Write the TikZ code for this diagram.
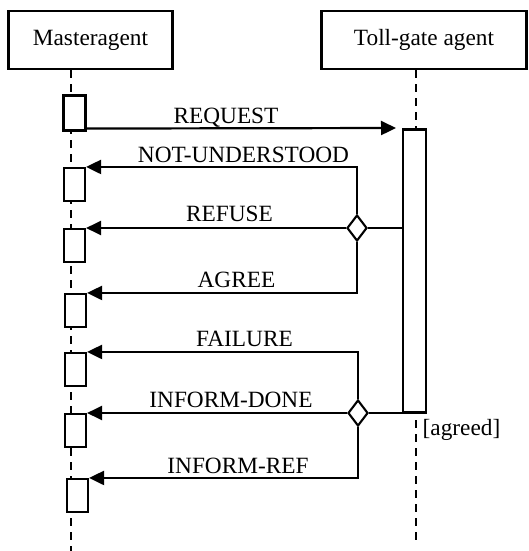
\documentclass[tikz,border=0pt]{standalone}
\usepackage{fontspec}
\setmainfont{Liberation Serif}
\usetikzlibrary{arrows.meta,shapes.geometric}
\begin{document}
\begin{tikzpicture}[x=1pt,y=-1pt,
  every node/.style={font=\fontsize{23.3}{28}\selectfont},
  head/.style={draw, line width=2.1pt, minimum height=58pt, inner sep=0pt},
  act/.style={draw, fill=white, line width=2.1pt, minimum width=21pt, minimum height=33pt, inner sep=0pt},
  choice/.style={diamond, draw, fill=white, line width=2.1pt, minimum width=20pt, minimum height=26pt, inner sep=0pt},
  life/.style={line width=1.8pt, dash pattern=on 8pt off 6pt},
  msg/.style={line width=2.2pt, -{Triangle[length=15pt,width=14pt]}},
  link/.style={line width=2pt},
  lab/.style={anchor=base, inner sep=0pt}
]
\useasboundingbox (0,0) rectangle (529,551);

% heads
\node[head, minimum width=164pt] (mh) at (90.5,40) {Masteragent};
\node[head, minimum width=205pt] (th) at (424,40) {Toll-gate agent};

% lifelines
\coordinate (mlend) at (71,551);
\coordinate (tlend) at (416,540);
\draw[life] (mlend |- mh.south) -- (mlend);
\draw[life] (tlend |- th.south) -- (tlend);

% activations on master
\node[act, minimum width=22pt, minimum height=35pt] (m1) at (74.5,113) {};
\node[act] (m2) at (74.5,184.5) {};
\node[act] (m3) at (74.5,245.5) {};
\node[act] (m4) at (75.5,310.5) {};
\node[act] (m5) at (75.5,369.5) {};
\node[act] (m6) at (75.5,430.5) {};
\node[act] (m7) at (77.5,495.5) {};

% activation on toll-gate
\node[act, minimum width=23pt, minimum height=283pt] (t) at (414.5,271) {};

% decision diamonds
\node[choice] (d1) at (357,228) {};
\node[choice] (d2) at (358,413) {};

% request
\coordinate (reqend) at (396,128);
\draw[msg] ([yshift=3pt]m1.south east) -- (reqend);

% links to activation
\draw[link] (d1.east) -- (d1.east -| t.west);
\draw[link] (d2.east) -- (d2.east -| t.west);

% replies
\draw[msg] (d1.north) |- (m2.north east);
\draw[msg] (d1.west) -- (d1.west -| m3.east);
\draw[msg] (d1.south) |- (m4.north east);
\draw[msg] (d2.north) |- (m5.north east);
\draw[msg] (d2.west) -- (d2.west -| m6.east);
\draw[msg] (d2.south) |- (m7.north east);

% labels
\node[lab] (lreq) at (226,123) {REQUEST};
\node[lab] (lnu) at (243.5,162) {NOT-UNDERSTOOD};
\node[lab] (lref) at (229.5,221.5) {REFUSE};
\node[lab] (lagr) at (236.5,287.5) {AGREE};
\node[lab] (lfail) at (244.5,346.5) {FAILURE};
\node[lab] (lid) at (231,407.5) {INFORM-DONE};
\node[lab] (lir) at (238,473) {INFORM-REF};
\node[lab] (lagreed) at (461.5,435) {[agreed]};
\end{tikzpicture}
\end{document}
